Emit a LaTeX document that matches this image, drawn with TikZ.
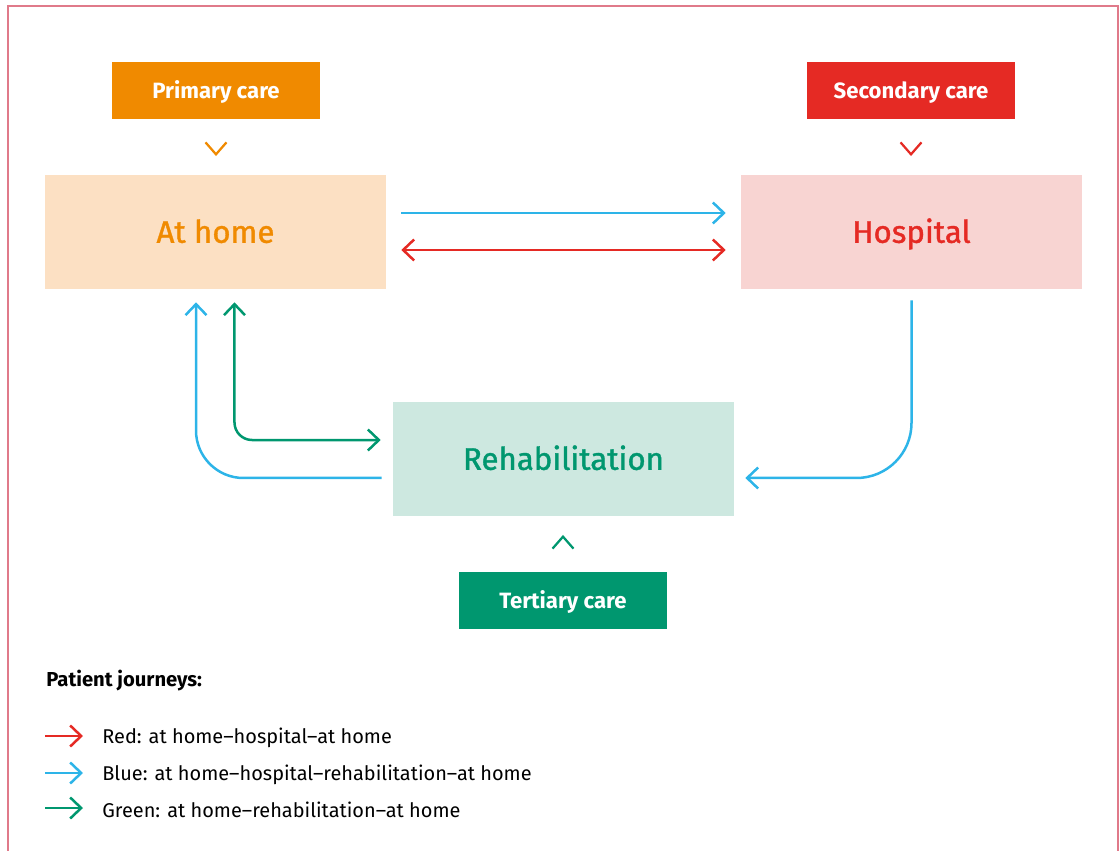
\documentclass[tikz,border=0pt]{standalone}
\usepackage{fontspec}
\setmainfont{Fira Sans}
\newfontfamily\placefont{Fira Sans}[FakeBold=1.2]
\usepackage{xcolor}
\usetikzlibrary{arrows.meta, positioning}

\definecolor{careorange}{HTML}{F08A00}
\definecolor{homefill}{HTML}{FCE0C3}
\definecolor{carered}{HTML}{E52A24}
\definecolor{hospfill}{HTML}{F8D4D2}
\definecolor{caregreen}{HTML}{00976F}
\definecolor{rehabfill}{HTML}{CDE8E0}
\definecolor{journeyblue}{HTML}{2DB4E8}
\definecolor{frame}{HTML}{E07A8A}

\begin{document}
\begin{tikzpicture}[
        x=0.02cm, y=-0.02cm,
        care/.style={inner sep=0, minimum width=4.16cm, minimum height=1.14cm, text height=8.7pt, text depth=0pt, text=white, font=\fontsize{12.6}{15}\selectfont\bfseries},
        place/.style={inner sep=0, minimum width=6.82cm, minimum height=2.28cm, text height=12.3pt, text depth=0pt, font=\fontsize{17.8}{21}\placefont},
        journey/.style={line width=0.5mm, arrows={-Straight Barb[length=2.2mm, width=4.2mm]}},
        chev/.style={line width=0.45mm},
        legend/.style={anchor=west, inner sep=0, font=\fontsize{11.35}{13}\selectfont}
    ]

        \useasboundingbox (0,0) rectangle (1119,851);

        % Frame, open at the bottom
        \draw[frame, line width=0.3mm] (8,851) -- (8,6) -- (1118,6) -- (1118,851);

        % Care levels
        \node[care, fill=careorange] (primary) at (216,90.5) {Primary care};
        \node[care, fill=carered] (secondary) at (911,90.5) {Secondary care};
        \node[care, fill=caregreen] (tertiary) at (563,600.5) {Tertiary care};

        % Places
        \node[place, fill=homefill, text=careorange] (home) at (215.5,232) {At home};
        \node[place, fill=hospfill, text=carered] (hosp) at (911.5,232) {Hospital};
        \node[place, fill=rehabfill, text=caregreen] (rehab) at (563.5,459) {Rehabilitation};

        % Chevrons
        \draw[chev, careorange] ([xshift=-0.21cm, yshift=-0.46cm]primary.south) -- ++(0.21cm,-0.24cm) -- ++(0.21cm,0.24cm);
        \draw[chev, carered] ([xshift=-0.21cm, yshift=-0.46cm]secondary.south) -- ++(0.21cm,-0.24cm) -- ++(0.21cm,0.24cm);
        \draw[chev, caregreen] ([xshift=-0.21cm, yshift=0.46cm]tertiary.north) -- ++(0.21cm,0.24cm) -- ++(0.21cm,-0.24cm);

        % Journeys between home and hospital
        \draw[journey, journeyblue, shorten <=0.3cm, shorten >=0.3cm] ([yshift=0.38cm]home.east) -- ([yshift=0.38cm]hosp.west);
        \draw[journey, carered, arrows={Straight Barb[length=2.2mm, width=4.2mm]-Straight Barb[length=2.2mm, width=4.2mm]}, shorten <=0.3cm, shorten >=0.3cm] ([yshift=-0.36cm]home.east) -- ([yshift=-0.36cm]hosp.west);

        % Hospital to rehabilitation, rehabilitation to home
        \draw[journey, journeyblue, rounded corners=1.1cm] ([yshift=-0.22cm]hosp.south) |- ([xshift=0.22cm, yshift=-0.38cm]rehab.east);
        \draw[journey, journeyblue, rounded corners=0.95cm] ([xshift=-0.22cm, yshift=-0.38cm]rehab.west) -| ([xshift=-0.39cm, yshift=-0.26cm]home.south);

        % Home to rehabilitation and back
        \draw[journey, caregreen, arrows={Straight Barb[length=2.2mm, width=4.2mm]-Straight Barb[length=2.2mm, width=4.2mm]}, rounded corners=0.35cm] ([xshift=0.38cm, yshift=-0.26cm]home.south) |- ([xshift=-0.24cm, yshift=0.38cm]rehab.west);

        % Legend
        \node[legend, font=\fontsize{11.5}{13}\selectfont\bfseries] (lgtitle) at (46,681) {Patient journeys:};
        \node[legend] (lgred) at (102,738) {Red: at home--hospital--at home};
        \node[legend] (lgblue) at (102,775) {Blue: at home--hospital--rehabilitation--at home};
        \node[legend] (lggreen) at (102,810) {Green: at home--rehabilitation--at home};

        \draw[journey, carered] ([xshift=-1.14cm, yshift=0.04cm]lgred.west) -- ([xshift=-0.38cm, yshift=0.04cm]lgred.west);
        \draw[journey, journeyblue] ([xshift=-1.14cm, yshift=0.04cm]lgblue.west) -- ([xshift=-0.38cm, yshift=0.04cm]lgblue.west);
        \draw[journey, caregreen] ([xshift=-1.14cm, yshift=0.04cm]lggreen.west) -- ([xshift=-0.38cm, yshift=0.04cm]lggreen.west);

    \end{tikzpicture}
\end{document}
